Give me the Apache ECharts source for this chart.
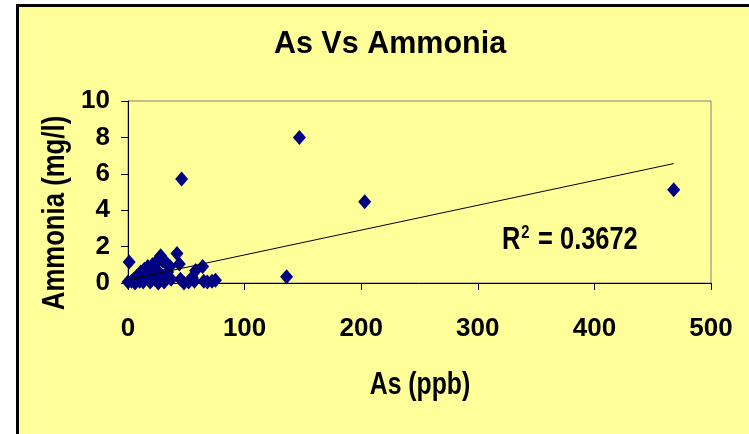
<!DOCTYPE html>
<html>
<head>
<meta charset="utf-8">
<script src="https://cdn.jsdelivr.net/npm/echarts@6/dist/echarts.min.js"></script>
<style>html,body{margin:0;padding:0;background:#fff;}#c{width:749px;height:434px;}</style>
</head>
<body>
<div id="c"></div>
<script>
// As (ppb) values
const asPpb = [0, 1, 3, 5, 6, 8, 10, 11, 13, 14, 16, 17, 19, 20, 21, 23, 24, 25, 26, 27, 28, 29, 30, 31, 33, 34, 36, 37, 42, 44, 45, 46, 48, 52, 55, 57, 58, 64, 65, 68, 72, 75, 136, 147, 203, 468];
// Ammonia (mg/l) values
const ammonia = [0.05, 1.15, 0.1, 0.2, 0, 0.4, 0.1, 0.6, 0.05, 0.75, 0.3, 0.9, 0.05, 0.5, 1.0, 0.2, 1.15, 0.7, 0, 1.3, 1.5, 0.3, 1.2, 0.05, 1.1, 0.6, 0.9, 0.2, 1.62, 1.05, 0.2, 5.72, 0, 0.05, 0.3, 0.1, 0.68, 0.9, 0.1, 0.05, 0.1, 0.15, 0.35, 8.0, 4.47, 5.13];
// Linear trendline endpoints
const trendX = [0, 468];
const trendY = [0.18, 6.56];
const xTicks = [0, 100, 200, 300, 400, 500];
const yTicks = [0, 2, 4, 6, 8, 10];
const titleText = 'As Vs Ammonia';
const xName = 'As (ppb)';
const yName = 'Ammonia (mg/l)';
const r2Text = '0.3672';

const FONT = "'Liberation Sans', Arial, sans-serif";
const chart = echarts.init(document.getElementById('c'), null, {renderer: 'canvas'});
const points = asPpb.map((x, i) => [x, ammonia[i]]);
const trend = trendX.map((x, i) => [x, trendY[i]]);
chart.setOption({
  animation: false,
  backgroundColor: '#ffffff',
  title: {
    text: titleText, left: 385, top: 24, textAlign: 'center',
    textStyle: {fontFamily: FONT, fontWeight: 'bold', fontSize: 30.5, color: '#000'}
  },
  graphic: [
    {type: 'rect', z: -10, silent: true, shape: {x: 17.5, y: 5.5, width: 800, height: 500},
     style: {fill: '#FFFF99', stroke: '#000', lineWidth: 3}},
    {type: 'text', x: 55, y: 213, rotation: Math.PI / 2, scaleX: 0.83, z: 10,
     style: {text: yName, font: "bold 31px " + FONT, fill: '#000', align: 'center', verticalAlign: 'middle'}},
    {type: 'text', x: 420, y: 385, scaleX: 0.8, z: 10,
     style: {text: xName, font: "bold 31px " + FONT, fill: '#000', align: 'center', verticalAlign: 'middle'}},
    {type: 'text', x: 502, y: 224, scaleX: 0.82, z: 10,
     style: {text: '{a|R}{b|2}{a| = ' + r2Text + '}', fill: '#000',
       rich: {a: {fontFamily: FONT, fontWeight: 'bold', fontSize: 31, verticalAlign: 'bottom', lineHeight: 32},
              b: {fontFamily: FONT, fontWeight: 'bold', fontSize: 18, verticalAlign: 'top', lineHeight: 32, padding: [0, 2, 14, 1]}}}}
  ],
  grid: {left: 128, right: 38, top: 101, bottom: 151, show: true, borderColor: '#808080', borderWidth: 1, backgroundColor: 'transparent'},
  xAxis: {
    type: 'value', min: xTicks[0], max: xTicks[xTicks.length - 1], interval: 100,
    axisLine: {show: true, onZero: false, lineStyle: {color: '#000', width: 1}},
    axisTick: {show: true, inside: false, length: 7, lineStyle: {color: '#000'}},
    axisLabel: {fontFamily: FONT, fontWeight: 'bold', fontSize: 26, color: '#000', margin: 33},
    splitLine: {show: false}
  },
  yAxis: {
    type: 'value', min: yTicks[0], max: yTicks[yTicks.length - 1], interval: 2,
    axisLine: {show: true, onZero: false, lineStyle: {color: '#000', width: 1}},
    axisTick: {show: true, inside: false, length: 7, lineStyle: {color: '#000'}},
    axisLabel: {fontFamily: FONT, fontWeight: 'bold', fontSize: 26, color: '#000', margin: 18},
    splitLine: {show: false}
  },
  series: [
    {type: 'scatter', data: points, symbol: 'diamond', symbolSize: [13, 15],
     itemStyle: {color: '#000080', opacity: 1}, z: 2},
    {type: 'line', data: trend, symbol: 'none', lineStyle: {color: '#000', width: 1}, z: 3, silent: true}
  ]
});
</script>
</body>
</html>
